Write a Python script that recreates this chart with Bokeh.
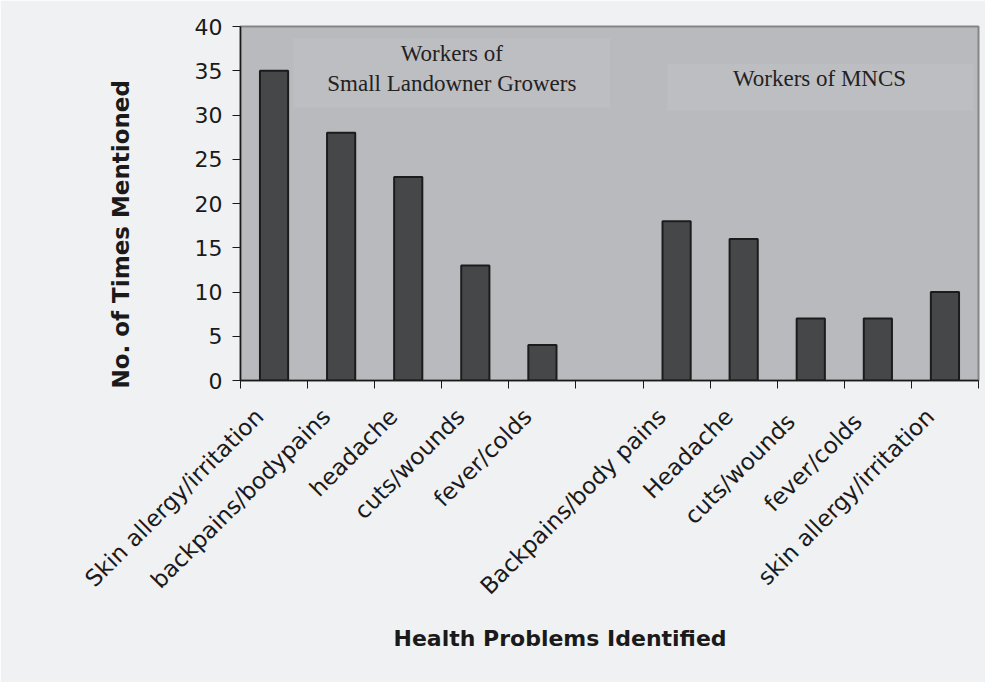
from bokeh.plotting import figure
from bokeh.models import Range1d, FixedTicker, BoxAnnotation, Label, ColumnDataSource, Title
from bokeh.embed import file_html
from bokeh.resources import INLINE

categories = ["Skin allergy/irritation", "backpains/bodypains", "headache", "cuts/wounds",
              "fever/colds", "", "Backpains/body pains", "Headache", "cuts/wounds ",
              "fever/colds ", "skin allergy/irritation"]
counts = [35, 28, 23, 13, 4, 0, 18, 16, 7, 7, 10]
y_ticks = [0, 5, 10, 15, 20, 25, 30, 35, 40]

n = len(categories)
centers = [i + 0.5 for i in range(n)]
label_pos = [c - 0.22 for c in centers]
xs = [c for c, v in zip(centers, counts) if v > 0]
vs = [v for v in counts if v > 0]
src = ColumnDataSource(dict(x=xs, top=vs))

BG = "#f0f1f3"
p = figure(width=985, height=682, output_backend="svg", toolbar_location=None,
           x_range=Range1d(0, n), y_range=Range1d(0, 40),
           min_border_left=240, min_border_right=7, min_border_top=26, min_border_bottom=302)
p.background_fill_color = "#b9babe"
p.border_fill_color = BG
p.outline_line_color = "#858585"
p.outline_line_width = 2
p.grid.visible = False

p.add_layout(BoxAnnotation(left=0.79, right=5.51, bottom=30.85, top=38.64,
                           fill_color="#bdbec2", fill_alpha=1, line_color=None))
p.add_layout(BoxAnnotation(left=6.36, right=10.92, bottom=30.5, top=35.8,
                           fill_color="#bdbec2", fill_alpha=1, line_color=None))

p.vbar(x="x", top="top", width=0.42, bottom=0, source=src,
       fill_color="#454749", line_color="#1c1c1c", line_width=2)

for txt, xx, yy in [("Workers of", 3.15, 36.9), ("Small Landowner Growers", 3.15, 33.6),
                    ("Workers of MNCS", 8.63, 34.1)]:
    p.add_layout(Label(x=xx, y=yy, text=txt, text_align="center", text_baseline="middle",
                       text_font="Liberation Serif", text_font_size="23px", text_color="#222222"))

# y axis
ya = p.yaxis[0]
ya.ticker = FixedTicker(ticks=y_ticks)
ya.major_label_text_font = "DejaVu Sans"
ya.major_label_text_font_size = "22px"
ya.major_label_text_color = "#1a1a1a"
ya.major_label_standoff = 10
ya.major_tick_out = 8
ya.major_tick_in = 0
ya.minor_tick_line_color = None
ya.axis_line_color = "#1a1a1a"
ya.axis_line_width = 1.5
ya.major_tick_line_color = "#1a1a1a"

# x axis
xa = p.xaxis[0]
xa.ticker = FixedTicker(ticks=label_pos, minor_ticks=list(range(n + 1)))
xa.major_label_overrides = {c: lab for c, lab in zip(label_pos, categories)}
xa.major_label_orientation = 0.785398
xa.major_label_text_font = "DejaVu Sans"
xa.major_label_text_font_size = "23px"
xa.major_label_text_color = "#1a1a1a"
xa.major_label_standoff = 24
xa.major_tick_out = 0
xa.major_tick_in = 0
xa.major_tick_line_color = None
xa.minor_tick_out = 8
xa.minor_tick_in = 0
xa.minor_tick_line_color = "#1a1a1a"
xa.axis_line_color = "#1a1a1a"
xa.axis_line_width = 1.5

# axis titles
p.add_layout(Title(text="Health Problems Identified", align="left", offset=153, standoff=25,
                   text_font="DejaVu Sans", text_font_style="bold", text_font_size="22px",
                   text_color="#1a1a1a"), "below")
p.add_layout(Title(text="No. of Times Mentioned", align="left", offset=-8, standoff=116,
                   text_font="DejaVu Sans", text_font_style="bold", text_font_size="23px",
                   text_color="#1a1a1a"), "left")

open("out.html", "w").write(file_html(p, INLINE))
